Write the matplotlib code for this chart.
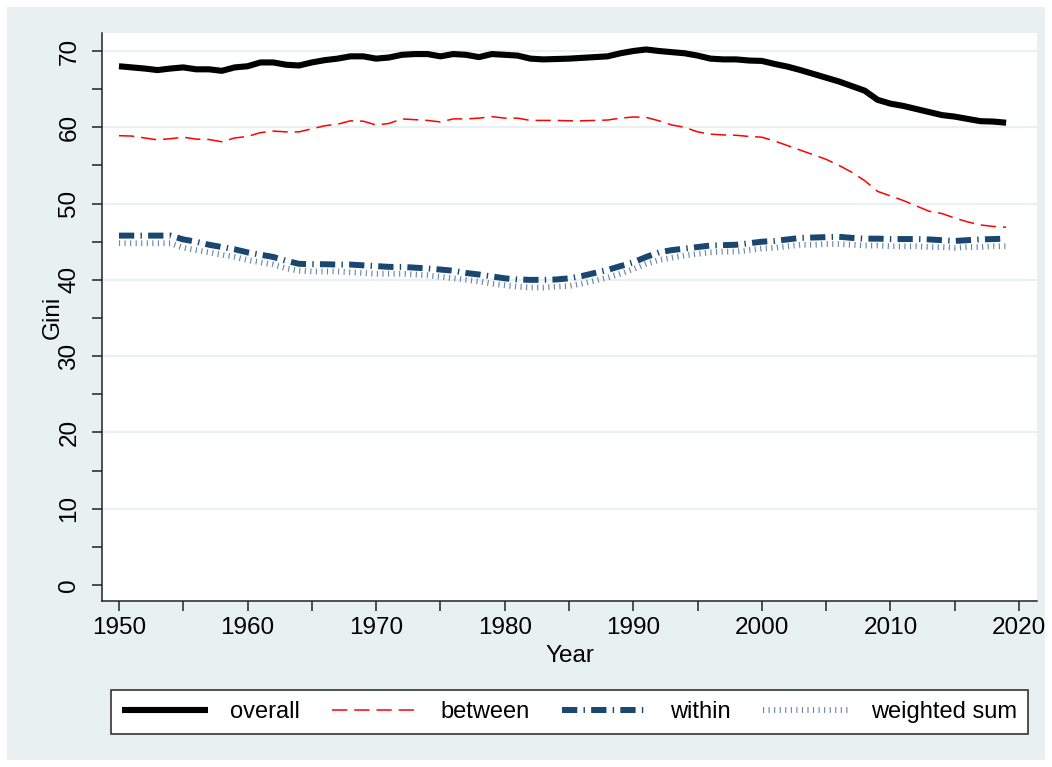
import matplotlib
matplotlib.use("Agg")
import matplotlib.pyplot as plt
from matplotlib.patches import Rectangle

years = list(range(1950, 2020))

overall = [68.0, 67.85, 67.7, 67.5, 67.7, 67.85, 67.6, 67.6, 67.4, 67.85,
           68.0, 68.5, 68.5, 68.2, 68.1, 68.5, 68.8, 69.0, 69.3, 69.3,
           69.0, 69.15, 69.5, 69.6, 69.6, 69.3, 69.6, 69.5, 69.2, 69.6,
           69.5, 69.4, 69.0, 68.9, 68.95, 69.0, 69.1, 69.2, 69.3, 69.7,
           70.0, 70.2, 70.0, 69.85, 69.7, 69.4, 69.0, 68.9, 68.9, 68.75,
           68.7, 68.3, 67.95, 67.5, 67.0, 66.5, 66.0, 65.4, 64.8, 63.6,
           63.1, 62.8, 62.4, 62.0, 61.6, 61.4, 61.1, 60.8, 60.75, 60.6]

between = [58.9, 58.85, 58.6, 58.35, 58.5, 58.7, 58.45, 58.4, 58.1, 58.6,
           58.8, 59.3, 59.5, 59.4, 59.4, 59.8, 60.2, 60.4, 60.85, 60.8,
           60.3, 60.5, 61.1, 61.0, 60.9, 60.7, 61.1, 61.1, 61.2, 61.4,
           61.2, 61.2, 60.9, 60.9, 60.9, 60.85, 60.85, 60.9, 60.95, 61.2,
           61.35, 61.3, 60.85, 60.3, 60.0, 59.4, 59.1, 59.0, 58.95, 58.8,
           58.7, 58.2, 57.6, 57.0, 56.4, 55.8, 55.0, 54.1, 53.0, 51.6,
           51.0, 50.4, 49.7, 49.0, 48.7, 48.1, 47.6, 47.2, 47.0, 46.9]

within = [45.8, 45.8, 45.8, 45.8, 45.8, 45.3, 45.0, 44.6, 44.3, 44.0,
          43.6, 43.3, 43.0, 42.5, 42.1, 42.05, 42.05, 42.0, 42.0, 41.9,
          41.8, 41.7, 41.7, 41.6, 41.5, 41.35, 41.2, 40.9, 40.7, 40.45,
          40.2, 40.05, 40.0, 40.0, 40.05, 40.2, 40.5, 40.9, 41.3, 41.8,
          42.3, 43.0, 43.6, 43.9, 44.1, 44.3, 44.5, 44.55, 44.6, 44.8,
          45.0, 45.1, 45.3, 45.5, 45.55, 45.6, 45.65, 45.5, 45.4, 45.4,
          45.35, 45.35, 45.35, 45.3, 45.2, 45.1, 45.2, 45.3, 45.35, 45.4]

weighted_sum = [44.8, 44.8, 44.8, 44.8, 44.8, 44.2, 43.9, 43.6, 43.3, 43.0,
                42.6, 42.3, 42.0, 41.5, 41.2, 41.1, 41.1, 41.1, 41.0, 40.9,
                40.8, 40.8, 40.8, 40.7, 40.6, 40.4, 40.2, 40.0, 39.8, 39.5,
                39.3, 39.1, 39.0, 39.0, 39.1, 39.2, 39.5, 39.9, 40.3, 40.8,
                41.4, 42.1, 42.6, 42.9, 43.2, 43.4, 43.6, 43.7, 43.7, 43.9,
                44.1, 44.2, 44.4, 44.6, 44.6, 44.7, 44.7, 44.6, 44.5, 44.5,
                44.4, 44.4, 44.4, 44.3, 44.3, 44.2, 44.3, 44.3, 44.4, 44.4]

labels = ["overall", "between", "within", "weighted sum"]
x_ticks = [1950, 1960, 1970, 1980, 1990, 2000, 2010, 2020]
y_ticks = [0, 10, 20, 30, 40, 50, 60, 70]

plt.rcParams['font.family'] = ['Liberation Sans', 'DejaVu Sans']
plt.rcParams['lines.scale_dashes'] = False

W, H = 1052, 767
BG = '#E8F0F2'
fig = plt.figure(figsize=(W / 100, H / 100), dpi=100, facecolor='white')
fig.patches.append(Rectangle((7 / W, 7 / H), (1045 - 7) / W, (760 - 7) / H,
                             transform=fig.transFigure, facecolor=BG,
                             edgecolor='none', zorder=-10))

ax = fig.add_axes([102 / W, 1 - 601 / H, (1037 - 102) / W, (601 - 33) / H])
ax.set_facecolor('white')

for yv in y_ticks[1:]:
    ax.axhline(yv, color=BG, lw=1.6, zorder=0)

l_over, = ax.plot(years, overall, color='black', lw=4.4, solid_capstyle='butt',
                  solid_joinstyle='round', label=labels[0], zorder=4)
l_betw, = ax.plot(years, between, color='#FF0000', lw=1.1,
                  linestyle=(0, (11, 5)), dash_capstyle='butt', label=labels[1], zorder=4)
l_with, = ax.plot(years, within, color='#1A476F', lw=4.3,
                  linestyle=(0, (11, 4.5, 1.0, 4.5)), dash_capstyle='butt',
                  label=labels[2], zorder=3)
l_wsum, = ax.plot(years, weighted_sum, color='#6585A6', lw=4.2,
                  linestyle=(0, (0.8, 3.2)), dash_capstyle='butt',
                  label=labels[3], zorder=2)

ax.set_xlim(1948.68, 2021.4)
ax.set_ylim(-2.1, 72.36)

ax.set_xticks(x_ticks)
ax.set_xticks(list(range(1955, 2020, 10)), minor=True)
ax.set_yticks(y_ticks)
ax.set_yticks(list(range(5, 70, 10)), minor=True)
ax.tick_params(axis='both', which='both', length=7.5, width=1.1, color='#222222',
               labelsize=17.5, labelcolor='black')
ax.tick_params(axis='x', which='major', pad=4)
ax.tick_params(axis='y', which='major', pad=8)
for lab in ax.get_yticklabels():
    lab.set_rotation(90)
    lab.set_va('center')

for s in ['top', 'right']:
    ax.spines[s].set_visible(False)
for s in ['left', 'bottom']:
    ax.spines[s].set_color('#222222')
    ax.spines[s].set_linewidth(1.1)

ax.set_xlabel("Year", fontsize=17.5, labelpad=4)
ax.set_ylabel("Gini", fontsize=17.5, labelpad=-4)

leg = fig.legend(handles=[l_over, l_betw, l_with, l_wsum], labels=labels,
                 loc='center', ncol=4, mode='expand',
                 bbox_to_anchor=(111 / W, 1 - 737 / H, (1028 - 111) / W, (737 - 687) / H),
                 fontsize=17, frameon=True, fancybox=False, framealpha=1,
                 handlelength=3.64, handletextpad=0.93, columnspacing=0.9,
                 borderaxespad=0, borderpad=0.45)
leg.get_frame().set_edgecolor('#333333')
leg.get_frame().set_linewidth(1.2)

fig.savefig("out.png", dpi=100, facecolor='white')
